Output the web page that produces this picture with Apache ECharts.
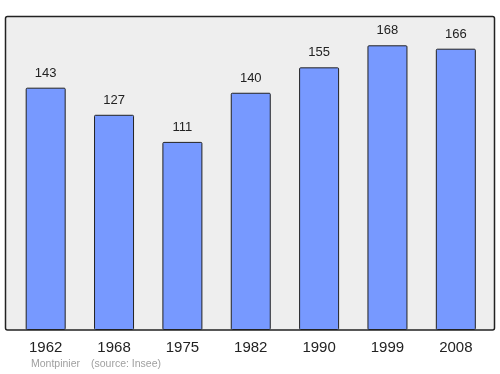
<!DOCTYPE html>
<html><head><meta charset="utf-8">
<script src="https://cdn.jsdelivr.net/npm/echarts@6/dist/echarts.min.js"></script>
<style>html,body{margin:0;padding:0;background:#fff}#c{width:500px;height:374px}</style>
</head><body><div id="c"></div>
<script>
const categories = ['1962','1968','1975','1982','1990','1999','2008'];
const population = [143,127,111,140,155,168,166];
const footerName = 'Montpinier';
const footerSource = '(source: Insee)';

const FONT = '"Liberation Sans", Arial, sans-serif';
const chart = echarts.init(document.getElementById('c'), null, {renderer:'canvas'});
chart.setOption({
  animation: false,
  backgroundColor: '#ffffff',
  graphic: [
    {type:'rect', z:-10, shape:{x:5.5, y:16.5, width:489, height:313.5, r:2},
     style:{fill:'#eeeeee', stroke:'#222222', lineWidth:1.5}},
    {type:'text', left:31, top:359, style:{text:footerName, fill:'#a0a0a0', font:'10.5px ' + FONT}},
    {type:'text', left:91, top:359, style:{text:footerSource, fill:'#a0a0a0', font:'10.5px ' + FONT}}
  ],
  grid: {left:11.5, right:10, top:16.5, bottom:44},
  xAxis: {
    type:'category', data: categories,
    axisLine:{show:false}, axisTick:{show:false},
    axisLabel:{color:'#222', fontSize:15, margin:10, fontFamily:FONT}
  },
  yAxis: {type:'value', min:0, max:185, show:false, splitLine:{show:false}},
  series: [{
    type:'bar', data: population, barWidth:40,
    itemStyle:{color:'#7799ff', borderColor:'#222222', borderWidth:1, borderRadius:1},
    label:{show:true, position:'top', distance:8, color:'#222', fontSize:13, fontFamily:FONT}
  }]
});
</script></body></html>
